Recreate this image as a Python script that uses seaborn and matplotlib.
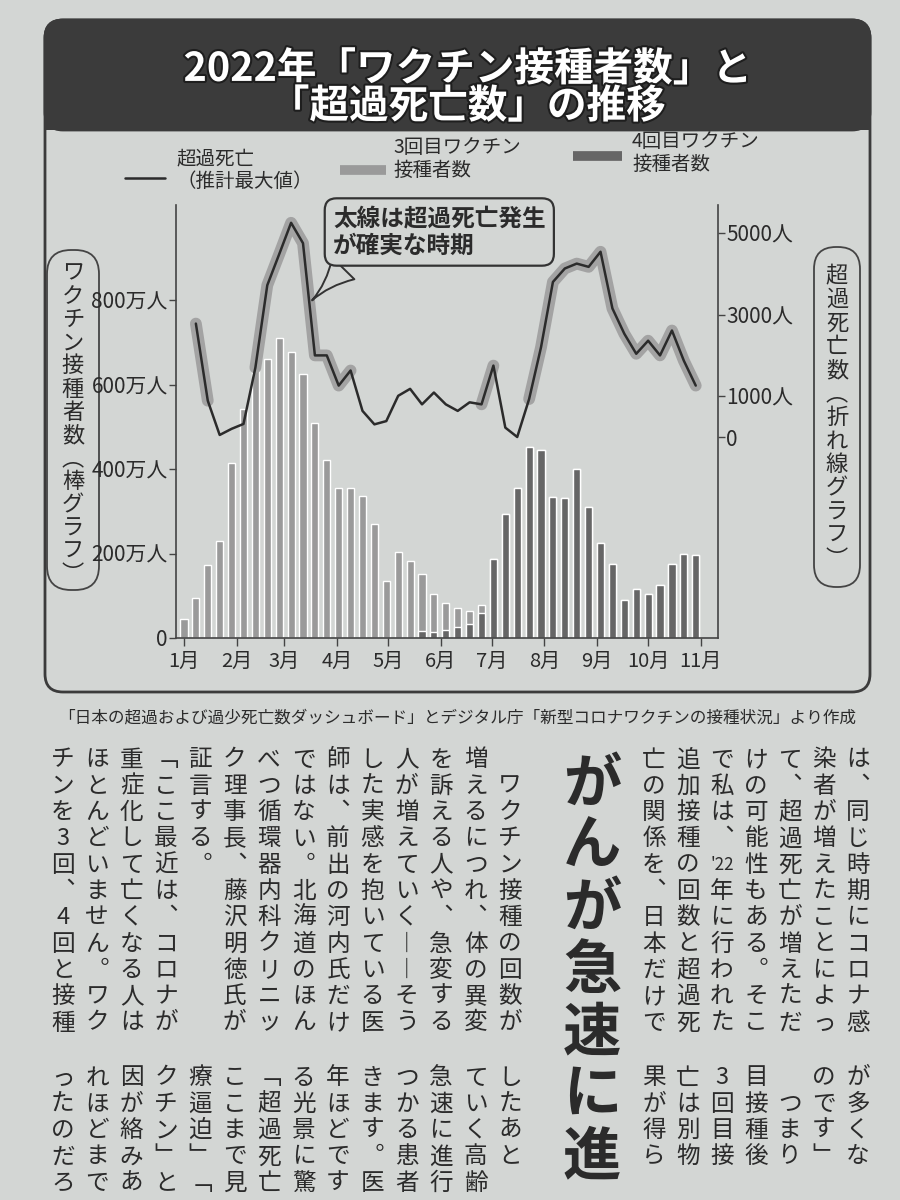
import re

import matplotlib
matplotlib.use("Agg")
import matplotlib.pyplot as plt
import matplotlib.patheffects as pe
from matplotlib.patches import FancyBboxPatch, Rectangle
import numpy as np
import pandas as pd
import seaborn as sns

# ---- data ----
month_labels = ["1月", "2月", "3月", "4月", "5月", "6月", "7月", "8月", "9月", "10月", "11月"]
month_start_day = [0, 31, 59, 90, 120, 151, 181, 212, 243, 273, 304]

# weekly vaccinations (万人), week 0 = first week of January
dose3 = [45, 94, 172, 230, 414, 542, 668, 661, 709, 676,
         625, 510, 421, 356, 355, 336, 270, 136, 204, 182,
         135, 90, 64, 47, 30, 19, 0, 0, 0, 0,
         0, 0, 0, 0, 0, 0, 0, 0, 0, 0,
         0, 0, 0, 0]
dose4 = [0, 0, 0, 0, 0, 0, 0, 0, 0, 0,
         0, 0, 0, 0, 0, 0, 0, 0, 0, 0,
         16, 14, 20, 25, 33, 60, 186, 294, 355, 451,
         445, 333, 331, 401, 311, 225, 174, 89, 117, 104,
         126, 176, 198, 196]

# weekly excess deaths (estimated max), weeks 1..43
excess = [2780, 890, 50, 200, 320, 1700, 3720, 4480, 5250, 4750,
          2000, 2000, 1260, 1630, 640, 310, 390, 1010, 1180, 800,
          1090, 800, 640, 850, 800, 1750, 230, 0, 930, 2200,
          3800, 4130, 4250, 4170, 4540, 3150, 2530, 2040, 2360, 2000,
          2610, 1870, 1260]
# weeks where the line is drawn thick (excess deaths certain)
thick_periods = [(1, 2), (6, 14), (25, 26), (29, 43)]

left_ticks = [0, 200, 400, 600, 800]
left_tick_labels = ["0", "200万人", "400万人", "600万人", "800万人"]
right_ticks = [0, 1000, 3000, 5000]
right_tick_labels = ["0", "1000人", "3000人", "5000人"]

title = "2022年「ワクチン接種者数」と\n「超過死亡数」の推移"
source_note = "「日本の超過および過少死亡数ダッシュボード」とデジタル庁「新型コロナワクチンの接種状況」より作成"

headline = "がんが急速に進行す"
body_top_right = ["は、同じ時期にコロナ感", "染者が増えたことによっ", "て、超過死亡が増えただ",
                  "けの可能性もある。そこ", "で私は、'22年に行われた", "追加接種の回数と超過死",
                  "亡の関係を、日本だけで"]
body_top_left = ["　ワクチン接種の回数が", "増えるにつれ、体の異変", "を訴える人や、急変する",
                 "人が増えていく——そう", "した実感を抱いている医", "師は、前出の河内氏だけ",
                 "ではない。北海道のほん", "べつ循環器内科クリニッ", "ク理事長、藤沢明徳氏が",
                 "証言する。", "「ここ最近は、コロナが", "重症化して亡くなる人は",
                 "ほとんどいません。ワク", "チンを3回、4回と接種"]
body_bottom_right = ["が多くな", "のです」", "　つまり", "目接種後", "3回目接", "亡は別物", "果が得ら"]
body_bottom_left = ["したあと", "ていく高齢", "急速に進行", "つかる患者", "きます。医", "年ほどです",
                    "る光景に驚", "「超過死亡", "ここまで見", "療逼迫」「自", "クチン」と",
                    "因が絡みあ", "れほどまでに", "ったのだろ"]

# ---- style ----
sns.set_style("ticks")
plt.rcParams["font.family"] = ["Noto Sans CJK JP", "DejaVu Sans"]

BG = "#d3d6d4"
INK = "#2b2b2b"
C3 = "#9a9a9a"
C4 = "#666666"
HALO = "#a3a3a3"
DARK = "#3b3b3b"

VERT = {"（": "︵", "）": "︶", "「": "﹁", "」": "﹂", "、": "︑", "。": "︒",
        "ー": "︱", "—": "︱"}

fig = plt.figure(figsize=(9, 12), dpi=100, facecolor=BG)

# full-page canvas in pixel units (y down) for the decoration and article text
canvas = fig.add_axes([0, 0, 1, 1], zorder=0)
canvas.set_xlim(0, 900)
canvas.set_ylim(1200, 0)
canvas.axis("off")


def vertical(x, y, s, size, step, weight="normal"):
    # tategaki: one glyph per cell, ascii runs set together in one cell
    half = size * 100 / 72 / 2
    for i, tok in enumerate(re.findall(r"[!-~]+|.", s)):
        yy = y + i * step
        if yy + half > 1200:
            break
        fs = size * 0.72 if len(tok) > 1 else size
        canvas.text(x, yy, VERT.get(tok, tok), ha="center", va="center",
                    fontsize=fs, color=INK, fontweight=weight)


# panel + title banner
canvas.add_patch(FancyBboxPatch((45, 20), 825, 110, boxstyle="round,pad=0,rounding_size=18",
                                fc=DARK, ec=DARK, lw=2))
canvas.add_patch(Rectangle((45, 90), 825, 40, fc=DARK, ec=DARK, lw=0))
canvas.add_patch(FancyBboxPatch((45, 20), 825, 672, boxstyle="round,pad=0,rounding_size=18",
                                fc="none", ec=DARK, lw=2))
canvas.text(468, 88, title, ha="center", va="center", fontsize=28.5, fontweight="bold",
            color="white", linespacing=0.88,
            path_effects=[pe.withStroke(linewidth=3, foreground="#1e1e1e")])

# legend
canvas.plot([125, 165], [178, 178], color=INK, lw=1.8)
canvas.text(176, 148, "超過死亡\n（推計最大値）", ha="left", va="top", fontsize=14,
            color=INK, linespacing=1.15)
canvas.plot([340, 386], [170, 170], color=C3, lw=7, solid_capstyle="butt")
canvas.text(393, 137, "3回目ワクチン\n接種者数", ha="left", va="top", fontsize=14,
            color=INK, linespacing=1.15)
canvas.plot([573, 622], [156, 156], color=C4, lw=7, solid_capstyle="butt")
canvas.text(632, 131, "4回目ワクチン\n接種者数", ha="left", va="top", fontsize=14,
            color=INK, linespacing=1.15)

# vertical axis titles in pills
canvas.add_patch(FancyBboxPatch((47, 250), 52, 340, boxstyle="round,pad=0,rounding_size=24",
                                fc="none", ec="#444444", lw=1.3))
vertical(73, 273, "ワクチン接種者数（棒グラフ）", 16, 23.2)
canvas.add_patch(FancyBboxPatch((814, 247), 46, 340, boxstyle="round,pad=0,rounding_size=22",
                                fc="none", ec="#444444", lw=1.3))
vertical(837, 276, "超過死亡数（折れ線グラフ）", 16, 23.6)

# ---- chart ----
ax = fig.add_axes([176 / 900, 1 - 638 / 1200, (718 - 176) / 900, (638 - 205) / 1200], zorder=2)
ax.patch.set_visible(False)

bars = pd.DataFrame({"week": np.arange(len(dose3)), "dose3": dose3, "dose4": dose4})
bars["total"] = bars["dose3"] + bars["dose4"]
sns.barplot(data=bars, x="week", y="total", native_scale=True, width=0.6, color=C3,
            saturation=1, errorbar=None, ax=ax)
sns.barplot(data=bars, x="week", y="dose4", native_scale=True, width=0.6, color=C4,
            saturation=1, errorbar=None, ax=ax)

ax.set_xlim(-0.67, 44.87)
ax.set_ylim(0, 1025)
ax.set_xticks(np.array(month_start_day) / 7, month_labels)
ax.set_yticks(left_ticks, left_tick_labels)
ax.set_xlabel("")
ax.set_ylabel("")
ax.spines[["top", "right"]].set_visible(False)
for s in ("left", "bottom"):
    ax.spines[s].set_color("#444444")
    ax.spines[s].set_linewidth(1.2)
ax.tick_params(axis="y", direction="out", length=5, width=1, colors="#444444",
               labelcolor=INK, labelsize=15, pad=1)
ax.tick_params(axis="x", direction="out", length=6, width=1, colors="#444444",
               labelcolor=INK, labelsize=14.5, pad=3)

ax2 = ax.twinx()
ax2.set_zorder(3)
ax2.patch.set_visible(False)
line = pd.DataFrame({"week": np.arange(1, len(excess) + 1), "excess": excess})
for a, b in thick_periods:
    seg = line[(line["week"] >= a) & (line["week"] <= b)]
    sns.lineplot(data=seg, x="week", y="excess", ax=ax2, color=HALO, lw=8.5,
                 solid_capstyle="round", solid_joinstyle="round", legend=False)
sns.lineplot(data=line, x="week", y="excess", ax=ax2, color=INK, lw=1.8,
             solid_joinstyle="round", legend=False)

ax2.set_ylim(-4926, 5686)
ax2.set_yticks(right_ticks, right_tick_labels)
ax2.set_ylabel("")
ax2.set_xlabel("")
ax2.spines[["top", "left", "bottom"]].set_visible(False)
ax2.spines["right"].set_color("#444444")
ax2.spines["right"].set_linewidth(1.2)
ax2.tick_params(axis="y", direction="out", length=5, width=1, colors="#444444",
                labelcolor=INK, labelsize=15, pad=1)

ax2.annotate("太線は超過死亡発生\nが確実な時期", xy=(10.6, 3300), xycoords="data",
             xytext=(333, 232), textcoords=canvas.transData, ha="left", va="center",
             fontsize=17, fontweight="bold", color=INK, linespacing=1.15, zorder=10,
             bbox=dict(boxstyle="round,pad=0.35,rounding_size=0.5", fc=BG, ec="#333333", lw=1.6),
             arrowprops=dict(arrowstyle="wedge,tail_width=1.3,shrink_factor=0.3", fc=BG,
                             ec="#333333", lw=1.4, relpos=(0.1, 0.0)))

# ---- source note and article ----
canvas.text(457, 718, source_note, ha="center", va="center", fontsize=12, color=INK)

vertical(592, 785, headline, 42, 62, weight="bold")
for i, col in enumerate(body_top_right):
    vertical(858 - 34 * i, 760, col, 17, 26.3)
for i, col in enumerate(body_top_left):
    vertical(510 - 34.4 * i, 760, col, 17, 26.3)
for i, col in enumerate(body_bottom_right):
    vertical(858 - 34 * i, 1078, col, 17, 26.3)
for i, col in enumerate(body_bottom_left):
    vertical(510 - 34.4 * i, 1078, col, 17, 26.3)

fig.savefig("out.png", dpi=100, facecolor=BG)
